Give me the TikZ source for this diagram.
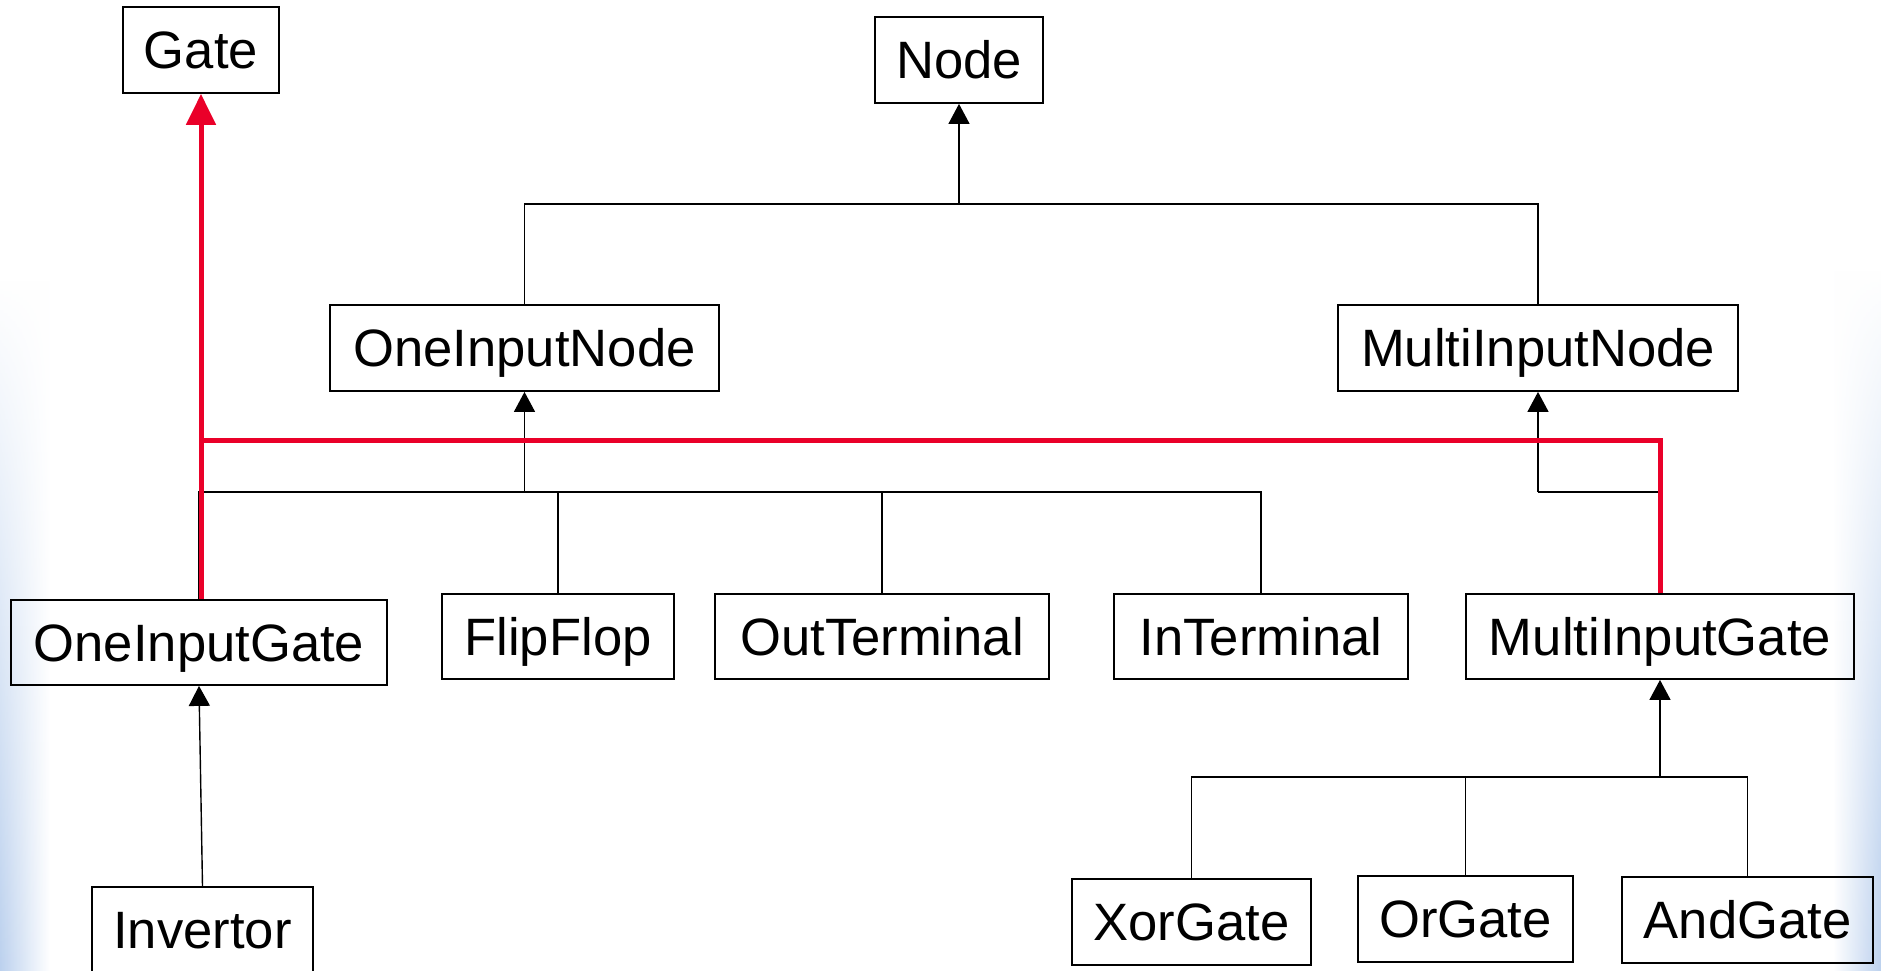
\documentclass[tikz,border=0pt]{standalone}
\usepackage{fontspec}
\setmainfont{Liberation Sans}
\usetikzlibrary{arrows.meta,fadings}
\definecolor{umlred}{RGB}{234,0,41}
\definecolor{edgeblue}{RGB}{188,209,238}
\begin{document}
\begin{tikzpicture}[x=0.5pt,y=-0.5pt,
  cls/.style={draw=black, line width=0.9pt, inner sep=0pt,
    minimum height=86*0.5pt, font=\fontsize{26.3}{30}\selectfont,
    text height=18.85pt, text depth=0pt},
  conn/.style={draw=black, line width=0.7pt},
  inh/.style={conn, -{Triangle[width=10.5pt,length=10pt]}},
  redl/.style={draw=umlred, line width=2.5pt},
  redinh/.style={redl, -{Triangle[width=14.5pt,length=15.5pt]}}]
\useasboundingbox (0,0) rectangle (1881,970);
\clip (0,0) rectangle (1881,970);
\fill[white] (0,0) rectangle (1881,970);
% soft blue edges of the background
\shade[left color=edgeblue, right color=white, path fading=north]
  (0,280) rectangle (50,970);
\shade[left color=white, right color=edgeblue, path fading=north]
  (1833,270) rectangle (1881,970);

% classes
\node[cls, minimum width=156*0.5pt] (gate) at (201,50) {Gate};
\node[cls, minimum width=168*0.5pt] (node) at (959,60) {Node};
\node[cls, minimum width=389*0.5pt] (oin) at (524.5,348) {OneInputNode};
\node[cls, minimum width=400*0.5pt] (min) at (1538,348) {MultiInputNode};
\node[cls, minimum width=376*0.5pt, minimum height=85*0.5pt] (oig) at (199,642.5) {OneInputGate};
\node[cls, minimum width=232*0.5pt, minimum height=85*0.5pt] (ff) at (558,636.5) {FlipFlop};
\node[cls, minimum width=334*0.5pt, minimum height=85*0.5pt] (outt) at (882,636.5) {OutTerminal};
\node[cls, minimum width=294*0.5pt, minimum height=85*0.5pt] (int) at (1261,636.5) {InTerminal};
\node[cls, minimum width=388*0.5pt, minimum height=85*0.5pt] (mig) at (1660,636.5) {MultiInputGate};
\node[cls, minimum width=239*0.5pt] (xor) at (1191.5,922) {XorGate};
\node[cls, minimum width=215*0.5pt] (or) at (1465.5,919) {OrGate};
\node[cls, minimum width=251*0.5pt] (and) at (1747.5,920) {AndGate};
\node[cls, minimum width=221*0.5pt] (inv) at (202.5,930) {Invertor};

% junction points
\coordinate (j1) at (959,204);
\coordinate (j2) at (524.5,492);
\coordinate (j3) at (201,440);
\coordinate (j4) at (1660,777);

% Node hierarchy
\draw[conn] (oin.north) |- (j1) -| (min.north);
\draw[inh] (j1) -- (node.south);

% OneInputNode hierarchy
\draw[conn] (oig.north) |- (int.north |- j2) -- (int.north);
\draw[conn] (ff.north) -- (ff.north |- j2);
\draw[conn] (outt.north) -- (outt.north |- j2);
\draw[inh] (j2) -- (oin.south);

% MultiInputNode
\draw[conn] (mig.north) |- (min.south |- j2);
\draw[inh] (min.south |- j2) -- (min.south);

% MultiInputGate hierarchy
\draw[conn] (xor.north) |- (j4) -| (and.north);
\draw[conn] (or.north) -- (or.north |- j4);
\draw[inh] (j4) -- (mig.south);

% Invertor
\draw[inh] (inv.north) -- (oig.south);

% red Gate inheritance
\draw[redl] (mig.north) |- (j3);
\draw[redinh] (gate.south |- oig.north) -- (gate.south);
\end{tikzpicture}
\end{document}
